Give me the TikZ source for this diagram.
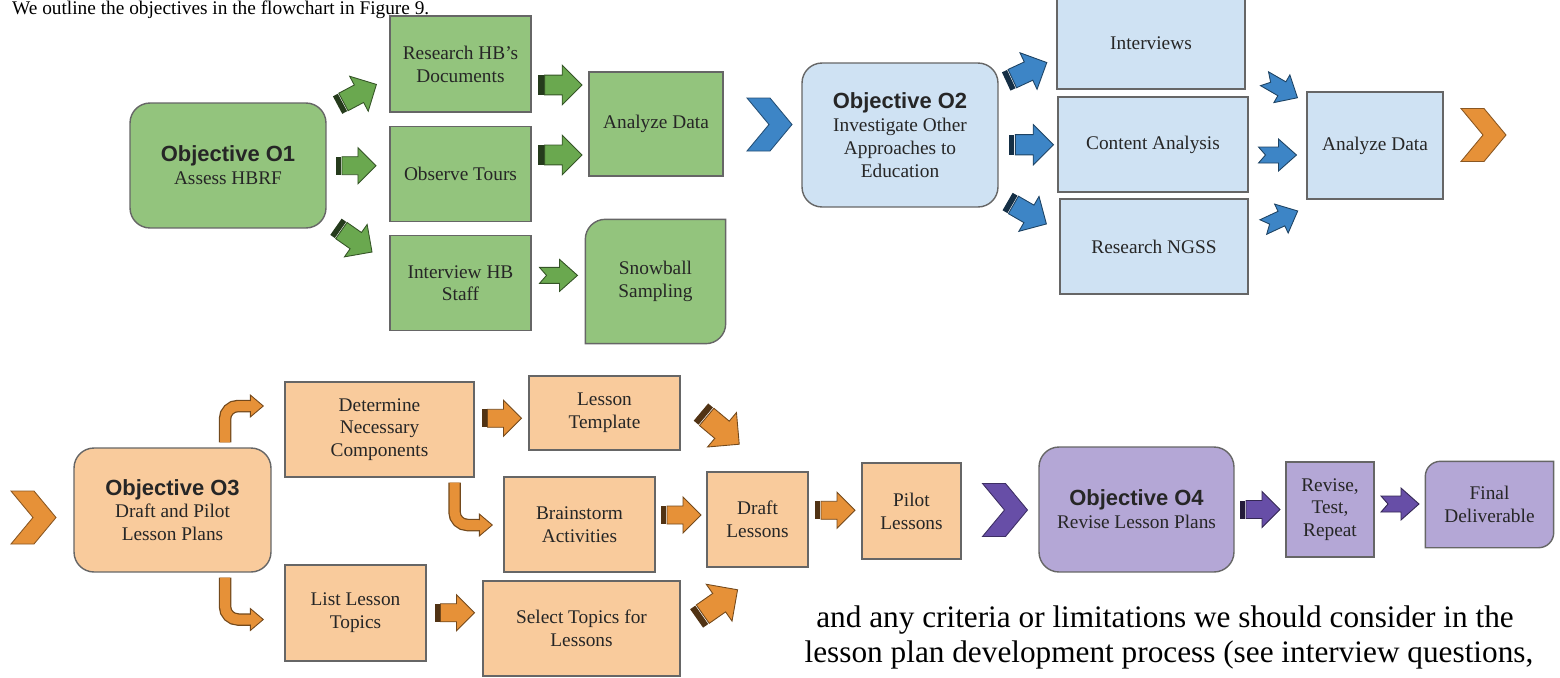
\documentclass[tikz,border=0pt]{standalone}
\usepackage{fontspec}
\setmainfont{Liberation Serif}
\newfontfamily\objsans{Liberation Sans}
\usetikzlibrary{positioning,calc,backgrounds}
\definecolor{gfill}{HTML}{93C47D}
\definecolor{bfill}{HTML}{CFE2F3}
\definecolor{ofill}{HTML}{F9CB9C}
\definecolor{pfill}{HTML}{B4A7D6}
\definecolor{garrow}{HTML}{6AA84F}
\definecolor{barrow}{HTML}{3D85C6}
\definecolor{oarrow}{HTML}{E69138}
\definecolor{parrow}{HTML}{674EA7}
\newcommand{\boxfont}{\fontsize{11}{13}\selectfont}
\newcommand{\bodyfont}{\fontsize{17.8}{21}\selectfont}
\newcommand{\objtitle}[1]{{\objsans\bfseries\fontsize{12.5}{15}\selectfont #1}}
% box with two rounded corners (top left, bottom right)
\newcommand{\cornerbox}[3]{%
  \filldraw[fill=#2, draw=black!60, line width=0.8pt] (#1.north) [sharp corners] -- (#1.north east) -- (#1.east)
    [rounded corners=#3] -- (#1.south east) -- (#1.south) [sharp corners] -- (#1.south west) -- (#1.west)
    [rounded corners=#3] -- (#1.north west) -- cycle;}
\tikzset{
    % block arrow with a dark stripe at its tail
    pics/stripe/.style={code={
        \fill[#1!35!black] (-20,-9) rectangle (-15,9);
        \filldraw[fill=#1, draw=#1!50!black, line width=0.5pt]
            (-14,-9) -- (2,-9) -- (2,-18) -- (20,0) -- (2,18) -- (2,9) -- (-14,9) -- cycle;
    }},
    % notched arrow
    pics/notch/.style={code={
        \filldraw[fill=#1, draw=#1!50!black, line width=0.5pt]
            (-19,-8) -- (1,-8) -- (1,-16) -- (19,0) -- (1,16) -- (1,8) -- (-19,8) -- (-12,0) -- cycle;
    }},
    % head of a bent arrow
    pics/bhead/.style={code={
        \fill[#1] (-1,-11) -- (12,0) -- (-1,11) -- cycle;
        \draw[#1!50!black, line width=0.5pt] (-1,-5) -- (-1,-11) -- (12,0) -- (-1,11) -- (-1,5);
    }},
    % chevron between the objectives
    pics/chev/.style={code={
        \filldraw[fill=#1, draw=#1!60!black, line width=0.5pt]
            (-22.5,-26.5) -- (0.5,-26.5) -- (22.5,0) -- (0.5,26.5) -- (-22.5,26.5) -- (-0.5,0) -- cycle;
    }},
    bent/.style={draw=oarrow, line width=0.2cm, rounded corners=0.26cm,
        preaction={draw=oarrow!50!black, line width=0.25cm}},
}
\begin{document}
\begin{tikzpicture}[x=0.02cm, y=-0.02cm]
\tikzstyle{box}=[draw=black!60, line width=0.8pt, align=center, text=black!85, font=\boxfont, inner sep=1pt]
\tikzstyle{obj}=[rounded corners=0.4cm]
\tikzstyle{gbox}=[box, fill=gfill]
\tikzstyle{bbox}=[box, fill=bfill]
\tikzstyle{obox}=[box, fill=ofill]
\tikzstyle{pbox}=[box, fill=pfill]
\useasboundingbox (0,0) rectangle (1560,677);

\node[anchor=base west, font=\fontsize{11}{13}\selectfont] (intro) at (6,14) {We outline the objectives in the flowchart in Figure 9.};

% objective 1
\node[gbox, obj, minimum width=3.92cm, minimum height=2.5cm] (o1) at (228,165.5) {\objtitle{Objective O1}\\Assess HBRF};
\node[gbox, minimum width=2.82cm, minimum height=1.92cm] (docs) at (460.5,64) {Research HB's\\Documents};
\node[gbox, minimum width=2.82cm, minimum height=1.9cm, below=0.26cm of docs] (tours) {Observe Tours};
\node[gbox, minimum width=2.82cm, minimum height=1.9cm, below=0.26cm of tours] (staff) {Interview HB\\Staff};
\node[gbox, minimum width=2.68cm, minimum height=2.08cm] (ana1) at (656,124) {Analyze Data};
\node[box, draw=none, minimum width=2.78cm, minimum height=2.46cm] (snow) at (655.5,281.5) {Snowball\\Sampling};
\begin{scope}[on background layer]
\cornerbox{snow}{gfill}{0.4cm}
\end{scope}

\pic[rotate=28, scale=1.1] at ($(o1.east)!.5!(docs.west)+(-1,-20)$) {stripe=garrow};
\pic at ($(o1.east)!.5!(tours.west)+(-2,-4)$) {stripe=garrow};
\pic[rotate=-35, scale=1.1] at ($(o1.east)!.5!(staff.west)+(-4,15)$) {stripe=garrow};
\pic[scale=1.1] at ($(docs.east)!.5!(ana1.west)+(0,-9)$) {stripe=garrow};
\pic[scale=1.1] at ($(tours.east)!.5!(ana1.west)+(0,6)$) {stripe=garrow};
\pic at ($(staff.east)!.5!(snow.west)+(0,-7)$) {notch=garrow};

\pic at (769.5,124.5) {chev=barrow};

% objective 2
\node[bbox, obj, minimum width=3.92cm, minimum height=2.88cm] (o2) at (900,135) {\objtitle{Objective O2}\\Investigate Other\\Approaches to\\Education};
\node[bbox, minimum width=3.76cm, minimum height=1.84cm] (intv) at (1151,43) {Interviews};
\node[bbox, minimum width=3.8cm, minimum height=1.9cm] (cont) at (1153,144.5) {Content Analysis};
\node[bbox, minimum width=3.76cm, minimum height=1.9cm] (ngss) at (1154,246.5) {Research NGSS};
\node[bbox, minimum width=2.72cm, minimum height=2.14cm] (ana2) at (1375,145.5) {Analyze Data};

\pic[rotate=25, scale=1.12] at ($(o2.east)!.5!(intv.west)+(-1,-17)$) {stripe=barrow};
\pic[scale=1.12] at ($(o2.east)!.5!(cont.west)+(3,5)$) {stripe=barrow};
\pic[rotate=-30, scale=1.12] at ($(o2.east)!.5!(ngss.west)+(-2,22)$) {stripe=barrow};
\pic[rotate=-30] at ($(intv.east)!.5!(ana2.west)+(5,-6)$) {notch=barrow};
\pic at ($(cont.east)!.5!(ana2.west)+(0,10)$) {notch=barrow};
\pic[rotate=25] at ($(ngss.east)!.5!(ana2.west)+(3,23)$) {notch=barrow};

\pic at (1483.5,135) {chev=oarrow};
\pic at (33.5,517.5) {chev=oarrow};

% objective 3
\node[obox, obj, minimum width=3.94cm, minimum height=2.48cm] (o3) at (172.5,510) {\objtitle{Objective O3}\\Draft and Pilot\\Lesson Plans};
\node[obox, minimum width=3.78cm, minimum height=1.9cm] (det) at (379.5,429.5) {Determine\\Necessary\\Components};
\node[obox, minimum width=3.02cm, minimum height=1.48cm] (tmpl) at (604.5,413) {Lesson\\Template};
\node[obox, minimum width=3.02cm, minimum height=1.9cm] (brain) at (579.5,524.5) {Brainstorm\\Activities};
\node[obox, minimum width=2.02cm, minimum height=1.9cm] (draft) at (757.5,519.5) {Draft\\Lessons};
\node[obox, minimum width=2.82cm, minimum height=1.92cm] (list) at (355.5,613) {List Lesson\\Topics};
\node[obox, minimum width=3.94cm, minimum height=1.9cm] (sel) at (581.5,628.5) {Select Topics for\\Lessons};
\node[obox, minimum width=1.98cm, minimum height=1.92cm] (pilot) at (911.5,511) {Pilot\\Lessons};

\draw[bent] ($(o3.north)+(52.5,-5)$) |- ($(det.west)+(-33,-23.5)$) coordinate (h1);
\pic at (h1) {bhead=oarrow};
\draw[bent] ($(o3.south)+(52.5,5)$) |- ($(list.west)+(-33,6.5)$) coordinate (h2);
\pic at (h2) {bhead=oarrow};
\draw[bent] ($(det.south)+(75,5)$) |- ($(brain.west)+(-23,0.5)$) coordinate (h3);
\pic at (h3) {bhead=oarrow};

\pic at ($(det.east)!.5!(tmpl.west)+(0,-3)$) {stripe=oarrow};
\pic[rotate=-40, scale=1.25] at ($(tmpl.east)!.5!(draft.north)+(1,-14)$) {stripe=oarrow};
\pic at ($(brain.east)!.5!(draft.west)+(0,-7)$) {stripe=oarrow};
\pic at ($(list.east)!.5!(sel.west)+(0,-8)$) {stripe=oarrow};
\pic[rotate=35, scale=1.25] at ($(sel.east)!.5!(draft.south)+(-2,6)$) {stripe=oarrow};
\pic at ($(draft.east)!.5!(pilot.west)+(0,-5)$) {stripe=oarrow};

\pic at (1005,510) {chev=parrow};

% objective 4
\node[pbox, obj, minimum width=3.9cm, minimum height=2.5cm] (o4) at (1136.5,509.5) {\objtitle{Objective O4}\\Revise Lesson Plans};
\node[pbox, minimum width=1.76cm, minimum height=1.9cm] (rev) at (1330,509.5) {Revise,\\Test,\\Repeat};
\node[box, draw=none, minimum width=2.54cm, minimum height=1.7cm] (final) at (1489.5,504.5) {Final\\Deliverable};
\begin{scope}[on background layer]
\cornerbox{final}{pfill}{0.3cm}
\end{scope}

\pic at ($(o4.east)!.5!(rev.west)$) {stripe=parrow};
\pic at ($(rev.east)!.5!(final.west)+(0,-3)$) {notch=parrow};

\node[anchor=base, font=\bodyfont] (body1) at (1165,627) {and any criteria or limitations we should consider in the};
\node[anchor=base, font=\bodyfont] (body2) at (1169,662) {lesson plan development process (see interview questions,};

\end{tikzpicture}
\end{document}
